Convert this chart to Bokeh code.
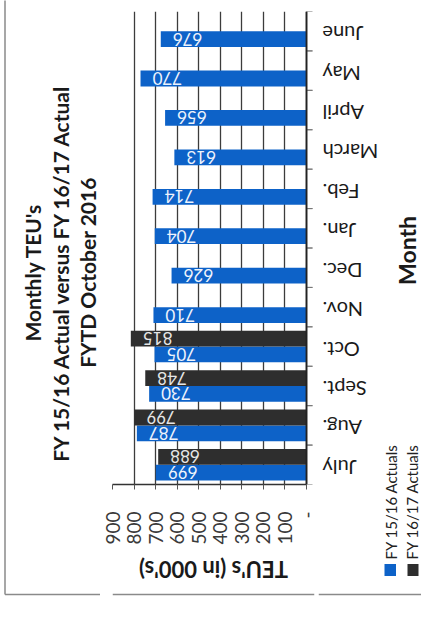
import math
from bokeh.plotting import figure
from bokeh.layouts import row, column
from bokeh.models import FactorRange, Range1d, LinearAxis, FixedTicker, ColumnDataSource, Span
from bokeh.transform import dodge
from bokeh.core.properties import value
from bokeh.embed import file_html
from bokeh.resources import INLINE

# ---------------- data ----------------
months = ["July", "Aug.", "Sept.", "Oct.", "Nov.", "Dec.", "Jan.", "Feb.",
          "March", "April", "May", "June"]
fy1516 = [699, 787, 730, 705, 710, 626, 704, 714, 613, 656, 770, 676]
fy1617_months = ["July", "Aug.", "Sept.", "Oct."]
fy1617 = [688, 799, 748, 815]
value_ticks = [0, 100, 200, 300, 400, 500, 600, 700, 800, 900]
zero_label = "-"
series_names = ["FY 15/16 Actuals", "FY 16/17 Actuals"]
title_lines = ["Monthly TEU's", "FY 15/16 Actual versus FY 16/17 Actual", "FYTD October 2016"]
value_title = "TEU's (in 000's)"
category_title = "Month"

# ---------------- style / geometry (canvas px) ----------------
BLUE = "#0d62c8"
DARK = "#2e2e2e"
FONT = "Lato"
BORDER = "#8a8a8a"
W, H = 421, 601
FL, FR, FT, FB = 112, 306, 11, 484     # plot-area edges (value 900 .. 0)
MBL = 12                               # left border of main figure (room for "900")
EXT, MBR = 8, 4                        # frame beyond zero (for axis ticks), right border
XL = FL - MBL                          # left edge of main figure
FRM = FR + EXT + MBR                   # right edge of main figure
MH = 548                               # height of main figure (frame + value axis)
NCAT = len(months)
U = (FB - FT) / NCAT                   # px per category
KX = (FR - FL) / max(value_ticks)      # px per value unit


def deco_fig(x0, x1, y0, y1):
    f = figure(width=x1 - x0, height=y1 - y0, title=None,
               x_range=Range1d(x0, x1), y_range=Range1d(y1, y0),
               x_axis_location=None, y_axis_location=None,
               output_backend="svg", toolbar_location=None,
               min_border=0, min_border_left=0, min_border_right=0,
               min_border_top=0, min_border_bottom=0)
    f.grid.visible = False
    f.outline_line_color = None
    f.background_fill_color = "white"
    f.border_fill_color = "white"
    return f


# ---------------- main plot ----------------
p = figure(width=FRM - XL, height=MH, title=None,
           x_range=Range1d(max(value_ticks), -EXT / KX),
           y_range=FactorRange(factors=months),
           x_axis_location=None, y_axis_location=None,
           output_backend="svg", toolbar_location=None,
           min_border_left=MBL, min_border_right=MBR,
           min_border_top=FT, min_border_bottom=MH - FB)
p.outline_line_color = None
p.background_fill_color = "white"
p.border_fill_color = "white"

p.xgrid.ticker = FixedTicker(ticks=value_ticks, minor_ticks=[])
p.xgrid.grid_line_color = "#3c3c3c"
p.xgrid.grid_line_width = 1.3
p.ygrid.visible = False

xaxis = LinearAxis(ticker=FixedTicker(ticks=value_ticks, minor_ticks=[]),
                   bounds=(min(value_ticks), max(value_ticks)),
                   major_label_overrides={0: zero_label},
                   major_label_orientation=math.pi / 2,
                   major_label_standoff=22,
                   major_tick_out=5, major_tick_in=0,
                   major_tick_line_color="#555555",
                   minor_tick_line_color=None,
                   axis_line_color="#333333", axis_line_width=1.5,
                   major_label_text_font=FONT,
                   major_label_text_font_size="19px",
                   major_label_text_color="#3a3a3a")
p.add_layout(xaxis, "below")

# category axis line and tick marks between categories
p.add_layout(Span(location=0, dimension="height", line_color="#222222", line_width=1.8))
tsrc = ColumnDataSource(dict(month=months))
for off in (-0.5, 0.5):
    yb = dodge("month", off, range=p.y_range)
    p.segment(x0=0, x1=-6 / KX, y0=yb, y1=yb, source=tsrc,
              line_color="#777777", line_width=1)

src1 = ColumnDataSource(dict(month=months, v=fy1516, lab=[str(v) for v in fy1516]))
src2 = ColumnDataSource(dict(month=fy1617_months, v=fy1617, lab=[str(v) for v in fy1617]))
y1 = dodge("month", -0.2, range=p.y_range)
y2 = dodge("month", 0.2, range=p.y_range)
p.hbar(y=y1, left=0, right="v", height=0.4, source=src1, fill_color=BLUE, line_color=None)
p.hbar(y=y2, left=0, right="v", height=0.4, source=src2, fill_color=DARK, line_color=None)

p.text(x="v", y=y1, text="lab", source=src1, angle=math.pi,
       text_align="right", text_baseline="middle", x_offset=12,
       text_font=value(FONT), text_font_size="17px", text_color="#eef3fc")
p.text(x="v", y=y2, text="lab", source=src2, angle=math.pi,
       text_align="right", text_baseline="middle", x_offset=12,
       text_font=value(FONT), text_font_size="17px", text_color="#e6e6e6")

# ---------------- value-axis title strip ----------------
b = deco_fig(XL, FRM, MH, H)
b.text(x=[(FL + FR) / 2], y=[569], text=[value_title], angle=math.pi,
       text_align="center", text_baseline="middle",
       text_font=value(FONT), text_font_size="22px", text_font_style="bold",
       text_color="#1a1a1a")
b.segment(x0=[XL], y0=[594], x1=[FRM], y1=[594], line_color=BORDER, line_width=1.5)

# ---------------- left strip: title ----------------
a = deco_fig(0, XL, 0, H)
a.text(x=[32, 59.5, 87], y=[272, 272, 272], text=title_lines, angle=math.pi / 2,
       text_align="center", text_baseline="middle",
       text_font=value(FONT), text_font_size="21px", text_font_style="bold",
       text_color="#1a1a1a")
a.segment(x0=[4.5, 4.5], y0=[-5, 594], x1=[4.5, XL], y1=[594, 594],
          line_color=BORDER, line_width=1.5)

# ---------------- right strip: months, axis title, legend ----------------
c = deco_fig(FRM, W, 0, H)
c.text(x=[322] * NCAT, y=[FB - (i + 0.5) * U + 3 for i in range(NCAT)], text=months,
       angle=math.pi, text_align="right", text_baseline="middle",
       text_font=value(FONT), text_font_size="20px", text_color="#1a1a1a")
c.text(x=[406.5], y=[250], text=[category_title], angle=math.pi / 2,
       text_align="center", text_baseline="middle",
       text_font=value(FONT), text_font_size="23px", text_font_style="bold",
       text_color="#1a1a1a")
leg_left = [384, 407]
leg_right = [395.5, 418]
c.quad(left=leg_left, right=leg_right, top=[563.5, 563.5], bottom=[575.5, 575.5],
       fill_color=[BLUE, DARK], line_color=None)
c.text(x=[390, 411.5], y=[559, 559], text=series_names,
       angle=math.pi / 2, text_align="left", text_baseline="middle",
       text_font=value(FONT), text_font_size="15px", text_color="#222222")
c.segment(x0=[FRM], y0=[594], x1=[W + 5], y1=[594], line_color=BORDER, line_width=1.5)

layout = row(a, column(p, b, spacing=0), c, spacing=0)
open("out.html", "w").write(file_html(layout, INLINE))
